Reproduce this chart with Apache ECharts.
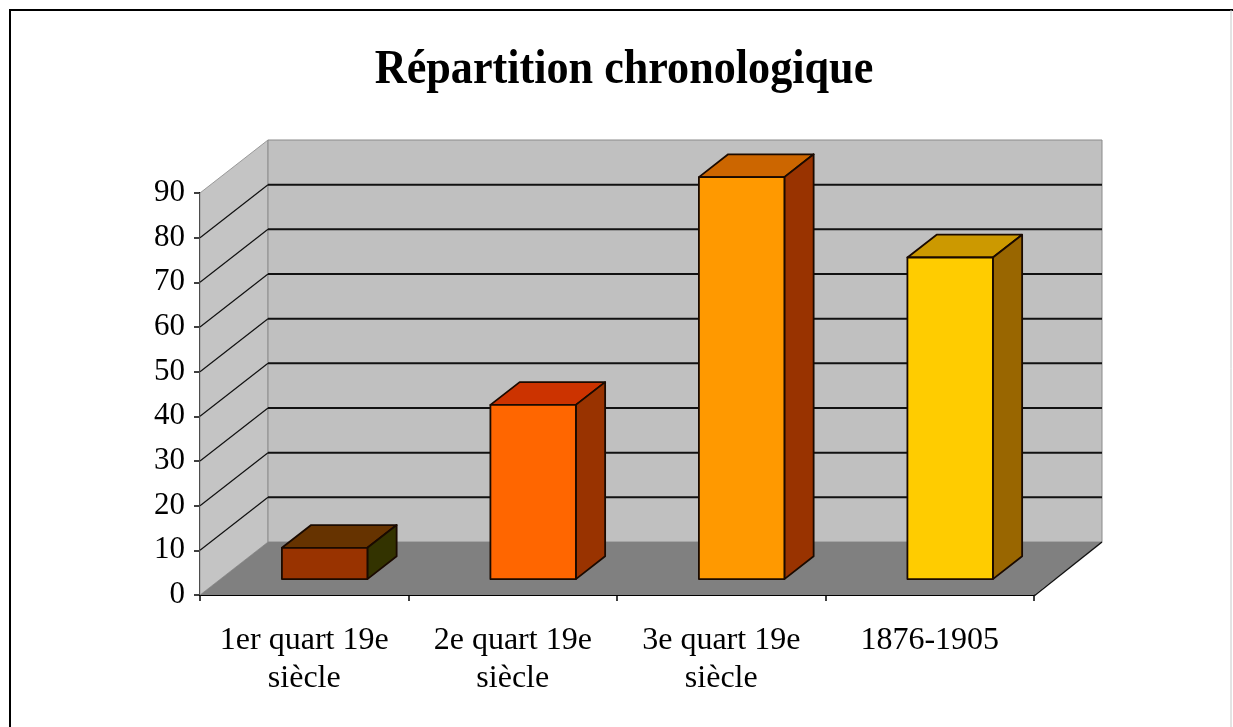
<!DOCTYPE html>
<html>
<head>
<meta charset="utf-8">
<title>Répartition chronologique</title>
<script src="https://cdn.jsdelivr.net/npm/echarts@6/dist/echarts.min.js"></script>
<style>
  html, body { margin: 0; padding: 0; background: #ffffff; }
  #chart { width: 1233px; height: 727px; }
</style>
</head>
<body>
<div id="chart"></div>
<script>
// Periods and number of items per period
const categories = ['1er quart 19e\nsiècle', '2e quart 19e\nsiècle', '3e quart 19e\nsiècle', '1876-1905'];
const values = [7, 39, 90, 72];
const yTicks = [0, 10, 20, 30, 40, 50, 60, 70, 80, 90];

// Face colours of each bar: front, top, right side
const frontColors = ['#993300', '#FF6600', '#FF9900', '#FFCC00'];
const topColors = ['#663300', '#CC3300', '#CC6600', '#CC9900'];
const sideColors = ['#333300', '#993300', '#993300', '#996600'];

// Oblique depth projection (pixels from the front plane to the back wall)
const DEPTH_X = 68;
const DEPTH_Y = -53;
const BAR_FRONT = 0.30;   // depth fraction of the bar front face
const BAR_BACK = 0.73;    // depth fraction of the bar back face
const BAR_WIDTH = 0.41;   // bar width as a share of the category band

const FONT = '"Liberation Serif", "DejaVu Serif", serif';

const chart = echarts.init(document.getElementById('chart'), null, { renderer: 'canvas' });

// Walls, floor and gridlines of the 3D box
function renderScene(params, api) {
  const cs = params.coordSys;
  const x0 = cs.x, x1 = cs.x + cs.width;
  const yFront0 = api.coord([0, 0])[1];
  const yFrontTop = api.coord([0, yTicks[yTicks.length - 1]])[1];
  const children = [];
  // side wall (left)
  children.push({
    type: 'polygon',
    shape: { points: [[x0, yFrontTop], [x0 + DEPTH_X, yFrontTop + DEPTH_Y], [x0 + DEPTH_X, yFront0 + DEPTH_Y], [x0, yFront0]] },
    style: { fill: '#C4C4C4', stroke: '#9a9a9a', lineWidth: 1 }
  });
  // back wall
  children.push({
    type: 'rect',
    shape: { x: x0 + DEPTH_X, y: yFrontTop + DEPTH_Y, width: x1 - x0, height: yFront0 - yFrontTop },
    style: { fill: '#C0C0C0', stroke: '#8a8a8a', lineWidth: 1 }
  });
  // floor
  children.push({
    type: 'polygon',
    shape: { points: [[x0, yFront0], [x1, yFront0], [x1 + DEPTH_X, yFront0 + DEPTH_Y], [x0 + DEPTH_X, yFront0 + DEPTH_Y]] },
    style: { fill: '#808080' }
  });
  // right edge of the floor
  children.push({
    type: 'line',
    shape: { x1: x1, y1: yFront0 + 1, x2: x1 + DEPTH_X, y2: yFront0 + DEPTH_Y },
    style: { stroke: '#111', lineWidth: 1.5 }
  });
  // gridlines on the side wall and the back wall
  yTicks.forEach(function (v) {
    if (v === 0 || v === yTicks[yTicks.length - 1]) return;
    const y = api.coord([0, v])[1];
    children.push({
      type: 'line',
      shape: { x1: x0, y1: y, x2: x0 + DEPTH_X, y2: y + DEPTH_Y },
      style: { stroke: '#111', lineWidth: 1.2 }
    });
    children.push({
      type: 'line',
      shape: { x1: x0 + DEPTH_X, y1: y + DEPTH_Y, x2: x1 + DEPTH_X, y2: y + DEPTH_Y },
      style: { stroke: '#111', lineWidth: 2 }
    });
  });
  return { type: 'group', children: children };
}

// One 3D bar: front face, top face and right side face
function renderBar(params, api) {
  const i = api.value(0);
  const v = api.value(1);
  const base = api.coord([i, 0]);
  const top = api.coord([i, v]);
  const w = api.size([1, 0])[0] * BAR_WIDTH;
  const ox = DEPTH_X * BAR_FRONT, oy = DEPTH_Y * BAR_FRONT;
  const dx = DEPTH_X * (BAR_BACK - BAR_FRONT), dy = DEPTH_Y * (BAR_BACK - BAR_FRONT);
  const xl = base[0] - w / 2 + ox, xr = xl + w;
  const yb = base[1] + oy, yt = top[1] + oy;
  const edge = { stroke: '#1a0a00', lineWidth: 1.8, lineJoin: 'round' };
  return {
    type: 'group',
    children: [
      { type: 'polygon',
        shape: { points: [[xl, yt], [xr, yt], [xr + dx, yt + dy], [xl + dx, yt + dy]] },
        style: Object.assign({ fill: topColors[i] }, edge) },
      { type: 'polygon',
        shape: { points: [[xr, yt], [xr + dx, yt + dy], [xr + dx, yb + dy], [xr, yb]] },
        style: Object.assign({ fill: sideColors[i] }, edge) },
      { type: 'rect',
        shape: { x: xl, y: yt, width: w, height: yb - yt },
        style: Object.assign({ fill: frontColors[i] }, edge) }
    ]
  };
}

const option = {
  backgroundColor: '#ffffff',
  animation: false,
  grid: { left: 200, right: 199, top: 193, bottom: 132, containLabel: false },
  xAxis: {
    type: 'category',
    data: categories,
    boundaryGap: true,
    axisLine: { show: true, onZero: false, lineStyle: { color: '#000', width: 2 } },
    axisTick: { show: true, length: 6, lineStyle: { color: '#000', width: 1.5 } },
    axisLabel: {
      color: '#000', fontFamily: FONT, fontSize: 32, lineHeight: 38,
      margin: 27, interval: 0
    },
    splitLine: { show: false }
  },
  yAxis: {
    type: 'value',
    min: yTicks[0],
    max: yTicks[yTicks.length - 1],
    interval: 10,
    axisLine: { show: true, lineStyle: { color: '#000', width: 2 } },
    axisTick: { show: true, length: 6, lineStyle: { color: '#000', width: 1.5 } },
    axisLabel: { color: '#000', fontFamily: FONT, fontSize: 31, margin: 15 },
    splitLine: { show: false }
  },
  graphic: [
    { type: 'text', x: 624, y: 71, scaleX: 0.92, scaleY: 1,
      style: { text: 'Répartition chronologique', font: 'bold 48px ' + FONT,
        fill: '#000', textAlign: 'center', textVerticalAlign: 'middle' },
      z: 10 },
    { type: 'polyline', shape: { points: [[10, 727], [10, 10], [1233, 10]] },
      style: { stroke: '#000', lineWidth: 2, fill: null }, z: 10 },
    { type: 'line', shape: { x1: 1231, y1: 10, x2: 1231, y2: 727 },
      style: { stroke: '#c8c8c8', lineWidth: 1 }, z: 10 }
  ],
  series: [
    {
      type: 'custom',
      name: 'scene',
      renderItem: renderScene,
      data: [[0, 0]],
      z: 1,
      silent: true
    },
    {
      type: 'custom',
      name: 'Répartition chronologique',
      renderItem: renderBar,
      data: values.map(function (v, i) { return [i, v]; }),
      encode: { x: 0, y: 1 },
      z: 2
    }
  ]
};

chart.setOption(option);
</script>
</body>
</html>
